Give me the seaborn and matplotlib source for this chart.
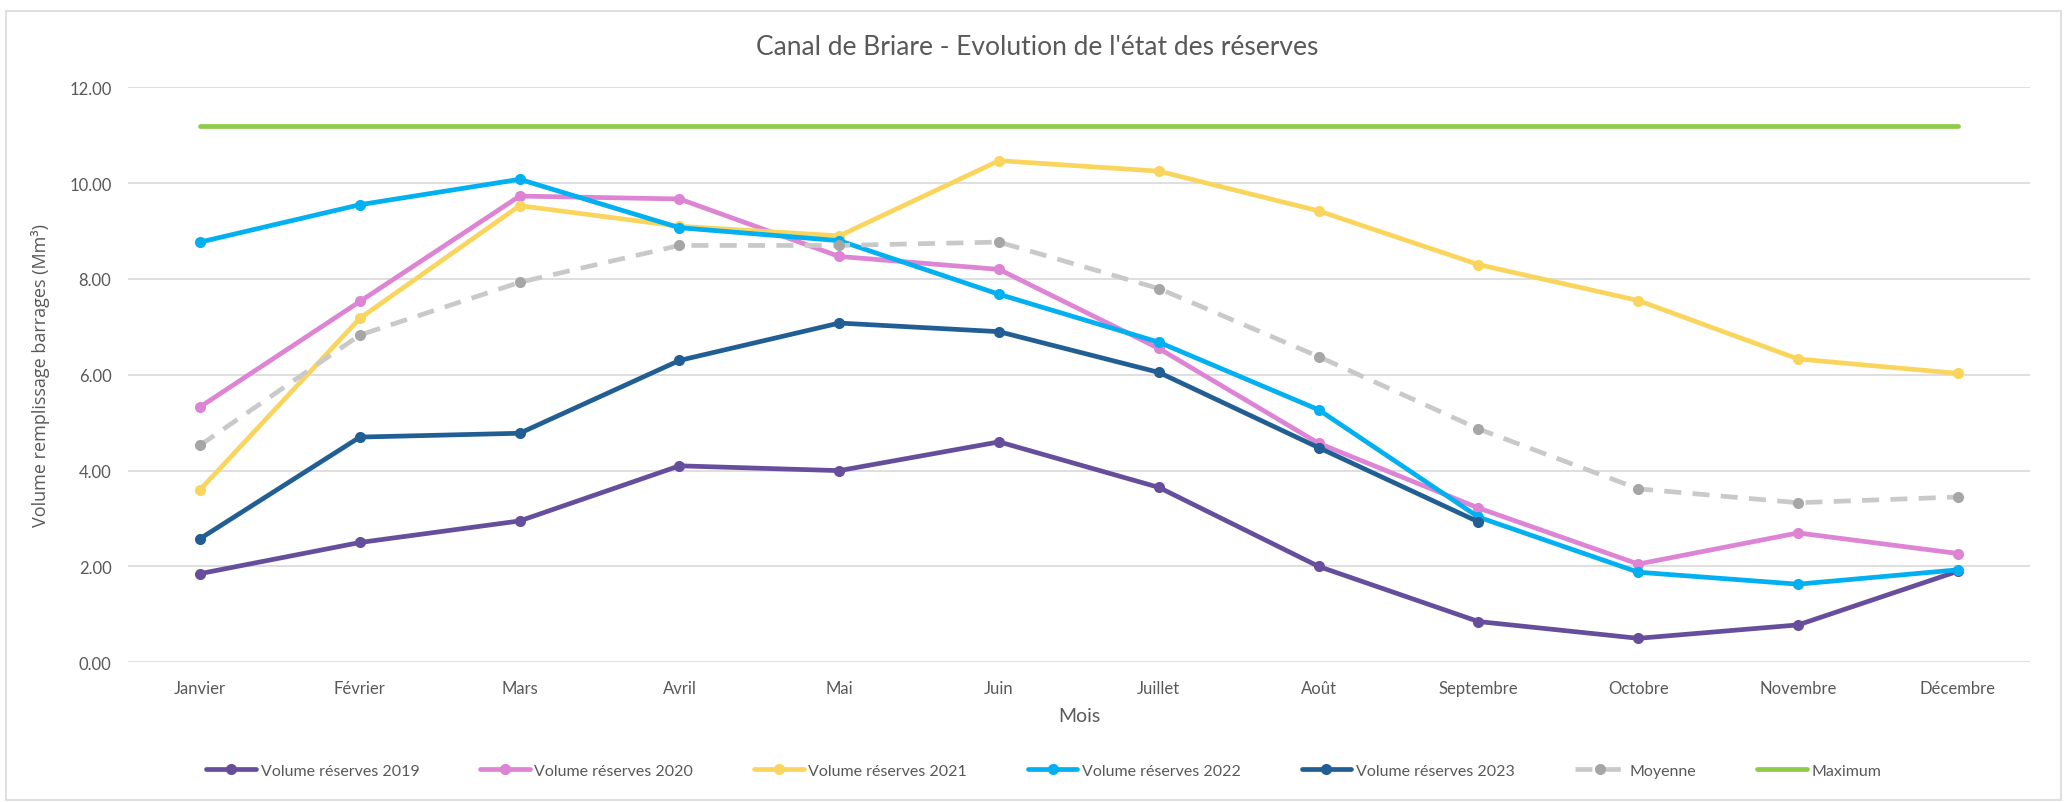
import numpy as np
import pandas as pd
import matplotlib
matplotlib.use("Agg")
import matplotlib.pyplot as plt
import seaborn as sns
from matplotlib.patches import Rectangle
from matplotlib.ticker import FormatStrFormatter

months = ["Janvier", "Février", "Mars", "Avril", "Mai", "Juin", "Juillet",
          "Août", "Septembre", "Octobre", "Novembre", "Décembre"]

v2019 = [1.85, 2.50, 2.95, 4.10, 4.00, 4.60, 3.65, 2.00, 0.85, 0.50, 0.78, 1.90]
v2020 = [5.33, 7.53, 9.73, 9.67, 8.47, 8.20, 6.55, 4.57, 3.22, 2.05, 2.70, 2.27]
v2021 = [3.60, 7.18, 9.53, 9.10, 8.90, 10.47, 10.25, 9.42, 8.30, 7.55, 6.33, 6.03]
v2022 = [8.77, 9.55, 10.08, 9.07, 8.80, 7.68, 6.68, 5.27, 3.03, 1.88, 1.63, 1.93]
v2023 = [2.58, 4.70, 4.78, 6.30, 7.08, 6.90, 6.05, 4.48, 2.93, np.nan, np.nan, np.nan]
moyenne = [4.53, 6.83, 7.93, 8.70, 8.70, 8.77, 7.80, 6.38, 4.87, 3.62, 3.33, 3.45]
maximum = [11.2, 11.2, 11.2, 11.2, 11.2, 11.2, 11.2, 11.2, 11.2, 11.2, 11.2, 11.2]

series_names = ["Volume réserves 2019", "Volume réserves 2020", "Volume réserves 2021",
                "Volume réserves 2022", "Volume réserves 2023", "Moyenne", "Maximum"]
series_values = [v2019, v2020, v2021, v2022, v2023, moyenne, maximum]

colors = ["#664E9C", "#DD84D4", "#FAD55E", "#00B0F0", "#215E93", "#C9C9C9", "#8DCB48"]

sns.set_theme(style="white")
plt.rcParams["font.family"] = ["Lato", "DejaVu Sans"]

fig = plt.figure(figsize=(20.67, 8.03), dpi=100)
ax = fig.add_axes([0.062, 0.174, 0.920, 0.716])

x = np.arange(len(months))
for name, vals, col in zip(series_names, series_values, colors):
    df = pd.DataFrame({"x": x, "y": vals}).dropna()
    if name == "Maximum":
        sns.lineplot(data=df, x="x", y="y", ax=ax, color=col, linewidth=3.4,
                     label=name, solid_capstyle="round")
    elif name == "Moyenne":
        sns.lineplot(data=df, x="x", y="y", ax=ax, color=col, linewidth=3.4,
                     label=name, marker="o", markersize=8, markeredgewidth=0,
                     markerfacecolor="#A6A6A6", linestyle=(0, (3.6, 2.4)))
    else:
        sns.lineplot(data=df, x="x", y="y", ax=ax, color=col, linewidth=3.4,
                     label=name, marker="o", markersize=8, markeredgewidth=0)

ax.set_xlim(-0.45, 11.45)
ax.set_ylim(0, 12)
ax.set_yticks(np.arange(0, 12.01, 2))
ax.yaxis.set_major_formatter(FormatStrFormatter("%.2f"))
ax.set_xticks(x)
ax.set_xticklabels(months)
ax.grid(axis="y", color="#D9D9D9", linewidth=1.2)
ax.grid(axis="x", visible=False)
for s in ax.spines.values():
    s.set_visible(False)
ax.tick_params(axis="both", length=0, labelsize=12, colors="#595959", pad=12)
ax.tick_params(axis="x", pad=13)

ax.set_xlabel("Mois", fontsize=14, color="#595959", labelpad=8)
ax.set_ylabel("Volume remplissage barrages (Mm³)", fontsize=13, color="#595959",
              labelpad=14, family=["Open Sans", "DejaVu Sans"])
fig.text(0.502, 0.941, "Canal de Briare - Evolution de l'état des réserves",
         ha="center", va="center", fontsize=19, color="#595959")

handles, labels = ax.get_legend_handles_labels()
leg = ax.legend(handles, labels, loc="center", bbox_to_anchor=(0.505, 0.039),
                bbox_transform=fig.transFigure, ncol=7, frameon=False,
                fontsize=11.5, handlelength=3.1, columnspacing=3.8, handletextpad=0.3)
for t in leg.get_texts():
    t.set_color("#595959")

fig.patches.append(Rectangle((0.003, 0.003), 0.994, 0.982, transform=fig.transFigure,
                             fill=False, edgecolor="#D9D9D9", linewidth=1.2))

fig.savefig("out.png", dpi=100)
